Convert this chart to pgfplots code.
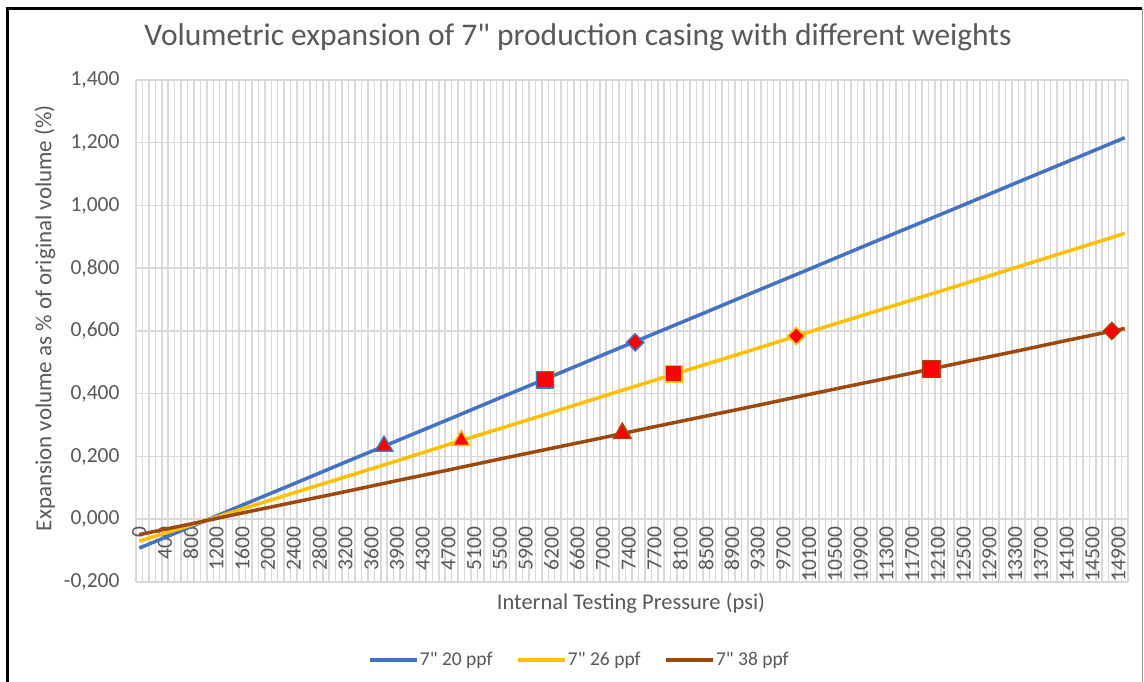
\documentclass[border=0pt]{standalone}
\usepackage{pgfplots}
\pgfplotsset{compat=1.18}
\usepackage{fontspec}
\setmainfont{Carlito}
\newcommand\dq{\XeTeXglyph\XeTeXcharglyph 34\relax}
\definecolor{sblue}{HTML}{4472C4}
\definecolor{syellow}{HTML}{FFC000}
\definecolor{sbrown}{HTML}{9E480E}
\definecolor{tgray}{HTML}{595959}
\definecolor{ggray}{HTML}{D9D9D9}
\begin{document}
\begin{tikzpicture}[x=1pt,y=1pt]
\useasboundingbox (0,0) rectangle (1144,682);
\fill[white] (0,0) rectangle (1144,682);
\draw[line width=3pt,black] (7.5,0) -- (7.5,673.5) -- (1142,673.5);
\draw[line width=1pt,ggray!70!black] (1142,0) -- (1142,673);
\node[text=tgray,font=\fontsize{31.5}{36}\selectfont] at (578,645) {Volumetric expansion of 7\dq{} production casing with different weights};
\node[text=tgray,font=\fontsize{23}{26}\selectfont,rotate=90] at (45,364) {Expansion volume as \% of original volume (\%)};
\node[text=tgray,font=\fontsize{22.5}{26}\selectfont] at (631,79) {Internal Testing Pressure (psi)};
\begin{axis}[
  at={(136pt,100pt)}, anchor=south west,
  scale only axis, width=992pt, height=502pt,
  xmin=-0.5, xmax=153.5, ymin=-0.2, ymax=1.4,
  axis line style={draw=none},
  major tick length=0pt, minor tick length=0pt,
  xtick={0,4,...,152},
  xticklabels={0,400,800,1200,1600,2000,2400,2800,3200,3600,3900,4300,4700,5100,5500,5900,6200,6600,7000,7400,7700,8100,8500,8900,9300,9700,10100,10500,10900,11300,11700,12100,12500,12900,13300,13700,14100,14500,14900},
  minor xtick={-0.5,0.5,...,153.5},
  xminorgrids=true, xmajorgrids=false, ymajorgrids=true,
  minor grid style={ggray, line width=1.5pt},
  major grid style={ggray, line width=1.5pt},
  ytick={-0.2,0,0.2,0.4,0.6,0.8,1.0,1.2,1.4},
  yticklabels={{-0,200},{0,000},{0,200},{0,400},{0,600},{0,800},{1,000},{1,200},{1,400}},
  ticklabel style={text=tgray,font=\fontsize{21.5}{24}\selectfont},
  yticklabel style={xshift=-13pt},
  xticklabel style={yshift=59pt,rotate=90,anchor=east},
  legend style={at={(axis description cs:0.4466,-0.155)}, anchor=center, draw=none, fill=none,
    legend columns=3, font=\fontsize{19.5}{22}\selectfont, text=tgray,
    /tikz/every even column/.style={column sep=22pt},
    nodes={inner sep=1.5pt}},
  legend image code/.code={\draw[#1,line width=3.5pt] (0pt,0pt) -- (47pt,0pt);},
  clip=false,
]
\addplot[sblue,line width=3.5pt,no marks] coordinates {
(0,-0.092) (8,-0.024) (16,0.045) (24,0.113) (32,0.182) (40,0.250) (48,0.318) (56,0.387) (64,0.455) (72,0.524) (80,0.592) (88,0.660) (96,0.729) (104,0.797) (112,0.866) (120,0.934) (128,1.002) (136,1.071) (144,1.139) (153,1.216)};
\addlegendentry{7\dq{} 20 ppf}
\addplot[syellow,line width=3.5pt,no marks] coordinates {
(0,-0.070) (8,-0.019) (16,0.033) (24,0.084) (32,0.135) (40,0.186) (48,0.238) (56,0.289) (64,0.340) (72,0.392) (80,0.443) (88,0.494) (96,0.545) (104,0.597) (112,0.648) (120,0.699) (128,0.750) (136,0.802) (144,0.853) (153,0.911)};
\addlegendentry{7\dq{} 26 ppf}
\addplot[sbrown,line width=3.5pt,no marks] coordinates {
(0,-0.049) (8,-0.015) (16,0.020) (24,0.054) (32,0.088) (40,0.123) (48,0.157) (56,0.192) (64,0.226) (72,0.260) (80,0.295) (88,0.329) (96,0.363) (104,0.398) (112,0.432) (120,0.466) (128,0.501) (136,0.535) (144,0.570) (153,0.608)};
\addlegendentry{7\dq{} 38 ppf}
% markers
\addplot[forget plot,only marks,mark=triangle*,mark size=10pt,mark options={fill=red,draw=sblue,line width=1.5pt}] coordinates {(38,0.233)};
\addplot[forget plot,only marks,mark=square*,mark size=8.3pt,mark options={fill=red,draw=sblue,line width=1.5pt}] coordinates {(63,0.445)};
\addplot[forget plot,only marks,mark=square*,mark size=6pt,mark options={fill=red,draw=sblue,line width=1.5pt,rotate=45}] coordinates {(77,0.564)};
\addplot[forget plot,only marks,mark=triangle*,mark size=10pt,mark options={fill=red,draw=syellow,line width=1.5pt}] coordinates {(50,0.251)};
\addplot[forget plot,only marks,mark=square*,mark size=8.3pt,mark options={fill=red,draw=syellow,line width=1.5pt}] coordinates {(83,0.464)};
\addplot[forget plot,only marks,mark=square*,mark size=6pt,mark options={fill=red,draw=syellow,line width=1.5pt,rotate=45}] coordinates {(102,0.584)};
\addplot[forget plot,only marks,mark=triangle*,mark size=10pt,mark options={fill=red,draw=sbrown,line width=1.5pt}] coordinates {(75,0.274)};
\addplot[forget plot,only marks,mark=square*,mark size=8.3pt,mark options={fill=red,draw=sbrown,line width=1.5pt}] coordinates {(123,0.479)};
\addplot[forget plot,only marks,mark=square*,mark size=6pt,mark options={fill=red,draw=sbrown,line width=1.5pt,rotate=45}] coordinates {(151,0.600)};
\end{axis}
\end{tikzpicture}
\end{document}
